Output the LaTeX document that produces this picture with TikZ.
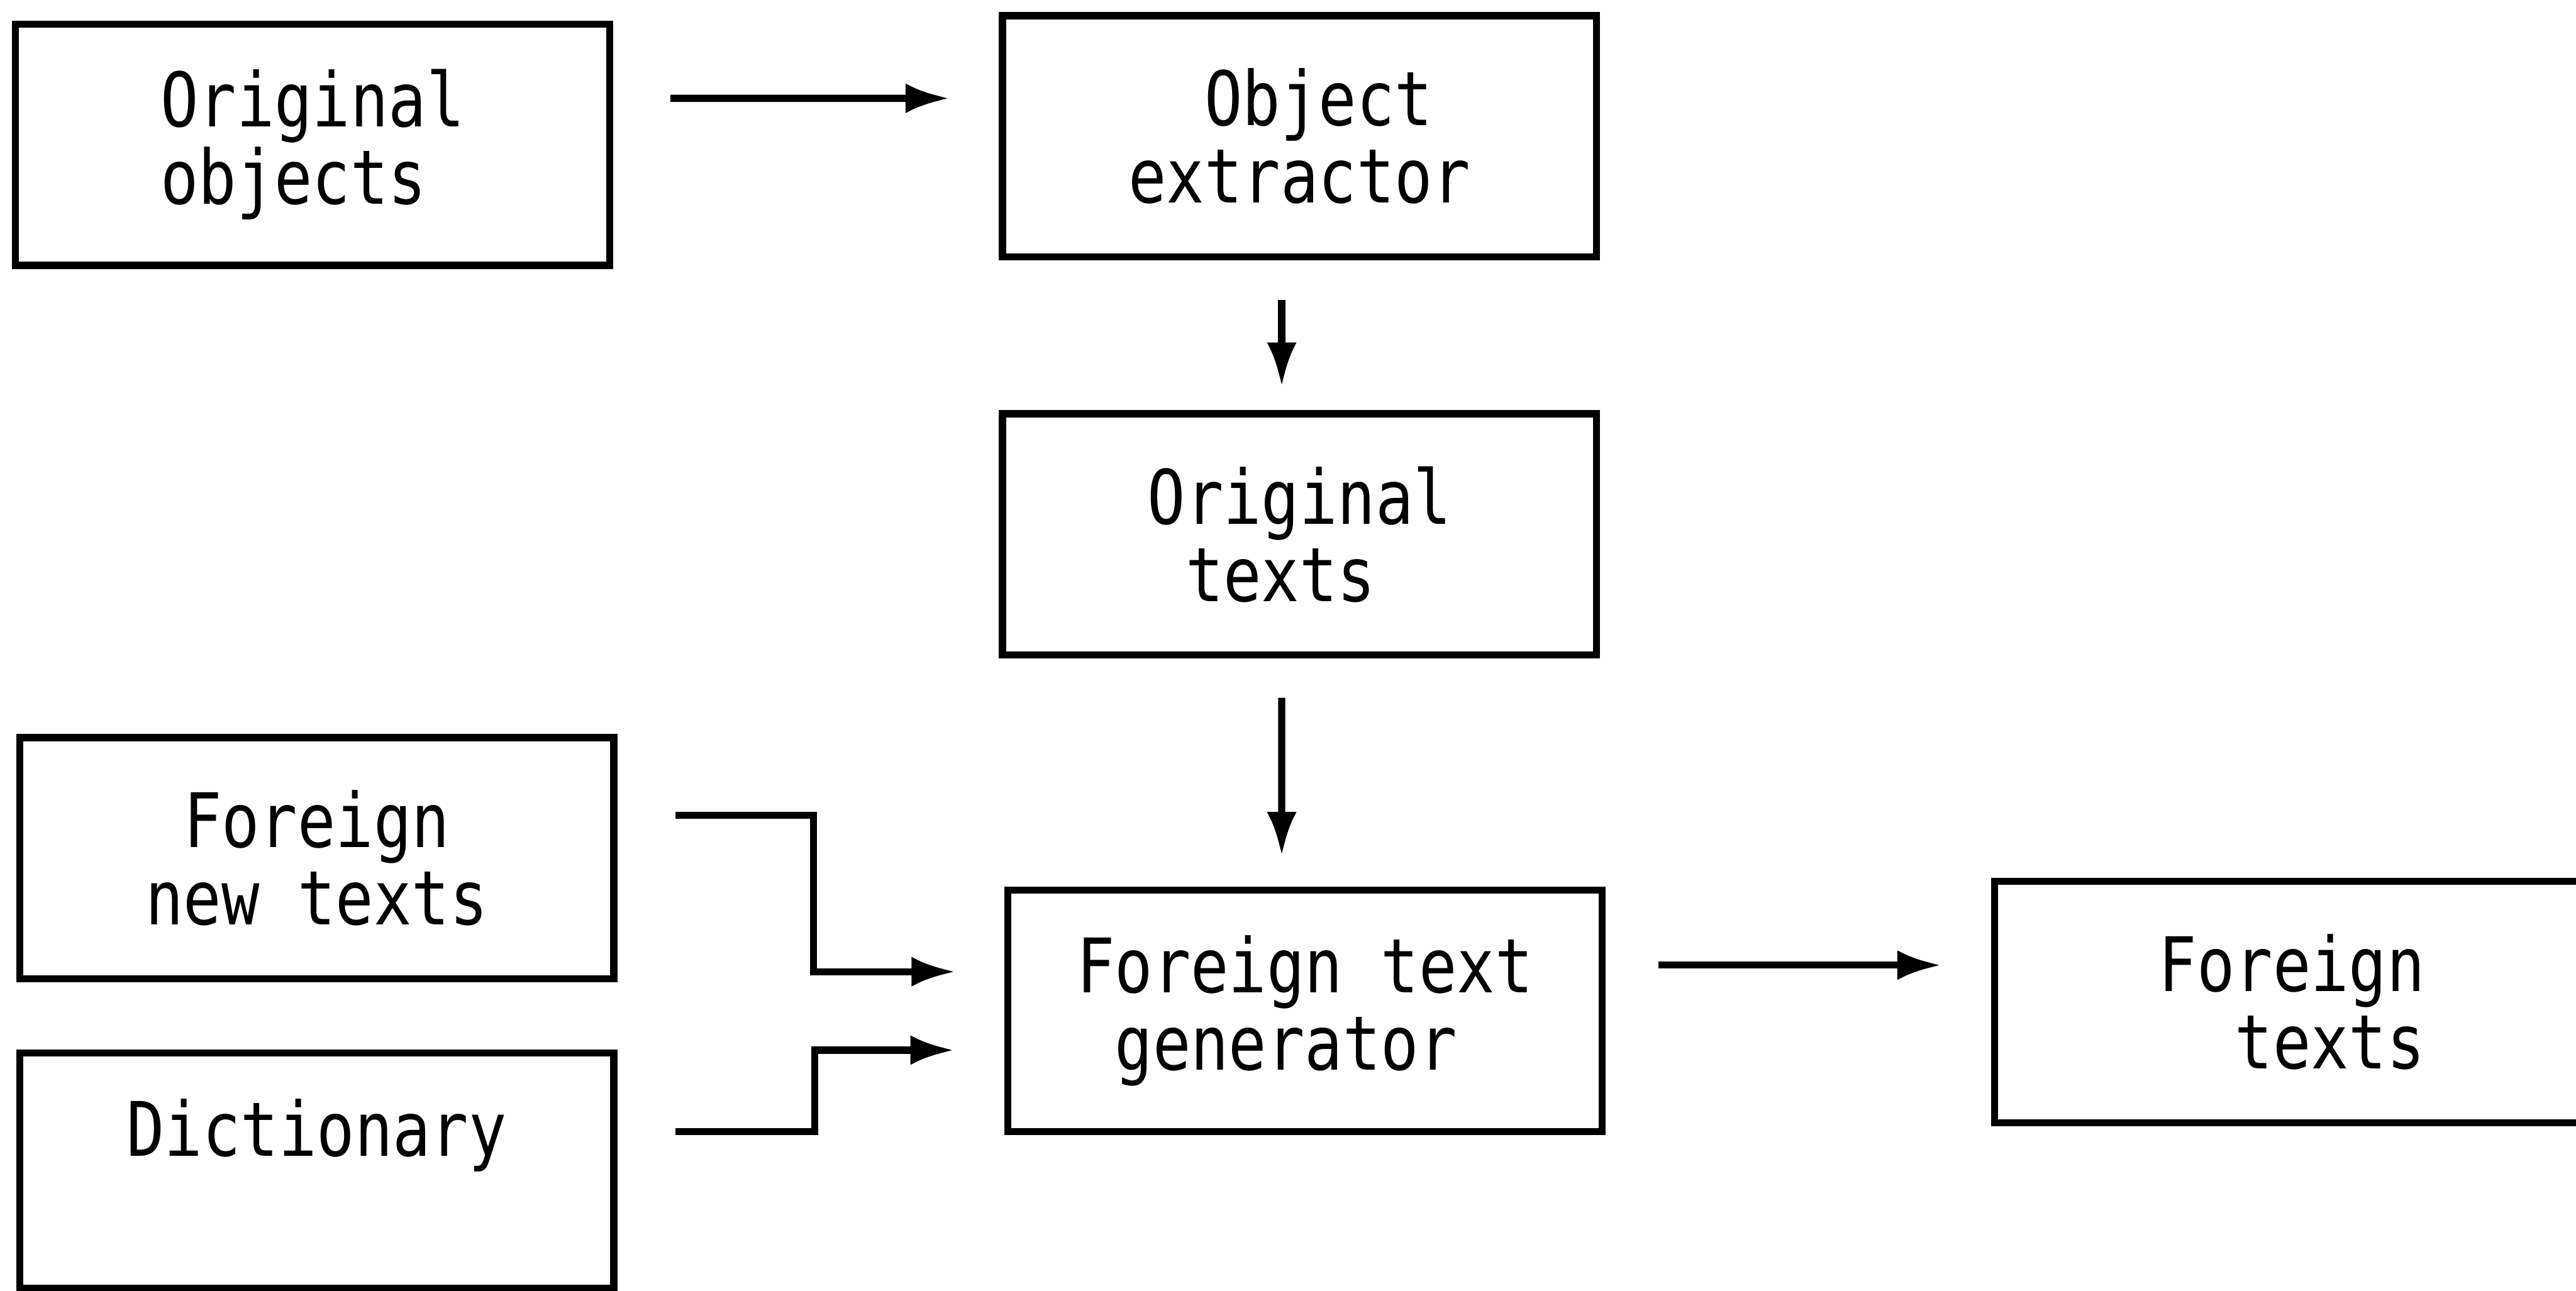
\documentclass[tikz,border=0pt]{standalone}
\usepackage{fontspec}
\usepackage{tikz}
\usetikzlibrary{arrows.meta, positioning}
\newfontfamily\boxfont[FakeStretch=0.84]{DejaVu Sans Mono}

\begin{document}
\begin{tikzpicture}[
    stage/.style={rectangle, draw=black, line width=1.7pt, minimum width=5cm,
                  minimum height=2.03cm, inner sep=0pt, align=left,
                  font=\boxfont\fontsize{18}{18.5}\selectfont},
    arr/.style={-{Latex[length=0.37cm, width=0.25cm]}, line width=1.7pt}
]

% page frame, the last box runs off the right edge
\useasboundingbox (-2.63,1.2175) rectangle (19.045,-9.6425);
\clip (-2.63,1.2175) rectangle (19.045,-9.6425);

% Top row
\node[stage] (orig) {Original\\objects};
\node[stage, right=3.245cm of orig, yshift=0.07cm] (extr) {\hphantom{xx}Object\\extractor};

% Middle column
\node[stage, below=1.26cm of extr] (otext) {Original\\\hphantom{x}texts};
\node[stage, below=1.92cm of otext, xshift=0.045cm] (gen) {Foreign text\\\hphantom{x}generator};

% Inputs on the left
\node[stage, below=3.915cm of orig, xshift=0.035cm] (fnew) {\hphantom{x}Foreign\\new texts};
\node[stage, below=0.565cm of fnew, minimum height=1.98cm] (dict) {Dictionary\\\rule[-0.08cm]{0pt}{0pt}};

% Output
\node[stage, right=3.245cm of gen, yshift=0.075cm] (ftext) {Foreign\\\hphantom{xx}texts};

% Arrows
\draw[arr, shorten <=0.48cm, shorten >=0.415cm] ([yshift=0.39cm]orig.east) -- ([yshift=0.32cm]extr.west);
\draw[arr, shorten <=0.33cm, shorten >=0.2cm] ([xshift=-0.15cm]extr.south) -- ([xshift=-0.15cm]otext.north);
\draw[arr, shorten <=0.33cm, shorten >=0.26cm] ([xshift=-0.15cm]otext.south) -- ([xshift=-0.195cm]gen.north);

\draw[arr, shorten <=0.49cm, shorten >=0.41cm] ([yshift=0.36cm]fnew.east) -- ++(1.65,0) |- ([yshift=0.33cm]gen.west);
\draw[arr, shorten <=0.49cm, shorten >=0.42cm] ([yshift=0.33cm]dict.east) -- ++(1.66,0) |- ([yshift=-0.33cm]gen.west);

\draw[arr, shorten <=0.445cm, shorten >=0.42cm] ([yshift=0.385cm]gen.east) -- ([yshift=0.31cm]ftext.west);

\end{tikzpicture}
\end{document}
